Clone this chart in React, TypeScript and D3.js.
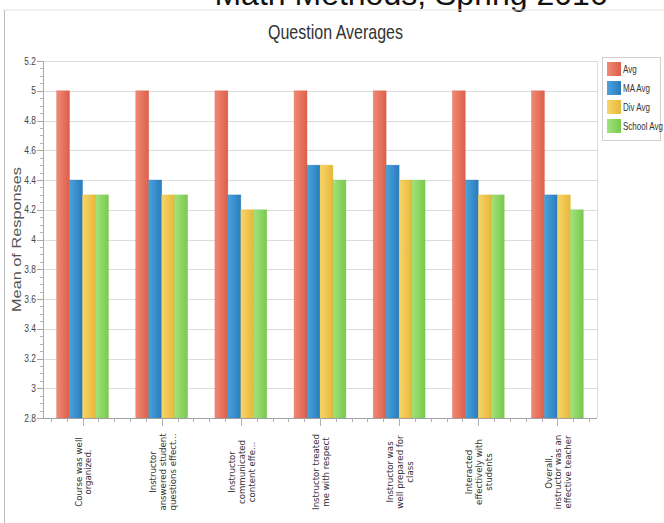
import * as d3 from 'd3'

const categories = [
  ['Course was well', 'organized.'],
  ['Instructor', 'answered student', 'questions effect...'],
  ['Instructor', 'communicated', 'content effe...'],
  ['Instructor treated', 'me with respect'],
  ['Instructor was', 'well prepared for', 'class'],
  ['Interacted', 'effectively with', 'students'],
  ['Overall,', 'instructor was an', 'effective teacher'],
]
const seriesNames = ['Avg', 'MA Avg', 'Div Avg', 'School Avg']
const avg = [5, 5, 5, 5, 5, 5, 5]
const maAvg = [4.4, 4.4, 4.3, 4.5, 4.5, 4.4, 4.3]
const divAvg = [4.3, 4.3, 4.2, 4.5, 4.4, 4.3, 4.3]
const schoolAvg = [4.3, 4.3, 4.2, 4.4, 4.4, 4.3, 4.2]
const yTicks = [2.8, 3, 3.2, 3.4, 3.6, 3.8, 4, 4.2, 4.4, 4.6, 4.8, 5, 5.2]

const colors = [
  ['#f08a76', '#dc5f49'],
  ['#4aa3dc', '#2a7cbd'],
  ['#f6d66a', '#e8b739'],
  ['#a3e27c', '#79c94e'],
]

const W = 664
const H = 523
const left = 43
const right = 597
const top = 61
const bottom = 418

// the reference uses a condensed face; squeeze a normal sans horizontally
function Narrow({ x, y, anchor = 'start', size, fill = '#333', children }: any) {
  return (
    <text
      transform={`translate(${x},${y}) scale(0.8,1)`}
      textAnchor={anchor}
      fontFamily="Liberation Sans, Arial, sans-serif"
      fontSize={size}
      fill={fill}
    >
      {children}
    </text>
  )
}

export default function App() {
  const series = [avg, maAvg, divAvg, schoolAvg]
  const x = d3.scaleBand().domain(d3.range(categories.length).map(String)).range([left, right])
  const inner = d3.scaleBand().domain(seriesNames).range([0, x.bandwidth()]).paddingOuter(1.05).paddingInner(0)
  const y = d3.scaleLinear().domain([2.8, 5.2]).range([bottom, top])
  const minorY = d3.range(2.8, 5.2001, 0.05).map((v) => +v.toFixed(2))
  const minorX = d3.range(0, 7 * 5).map((i) => left + (i * x.bandwidth()) / 5 + x.bandwidth() / 10)

  return (
    <svg width={W} height={H} style={{ position: 'absolute', left: 0, top: 0, background: '#fff' }}>
      <defs>
        {colors.map((c, i) => (
          <linearGradient key={i} id={'g' + i} x1="0%" x2="100%">
            <stop offset="0%" stopColor={c[0]} />
            <stop offset="100%" stopColor={c[1]} />
          </linearGradient>
        ))}
      </defs>
      <text x={411} y={5} textAnchor="middle" fontFamily="Liberation Sans, Arial, sans-serif" fontSize={32} fill="#111">
        Math Methods, Spring 2016
      </text>
      <line x1={4} x2={W} y1={10} y2={10} stroke="#e4e4e4" />
      <line x1={4.5} x2={4.5} y1={10} y2={H} stroke="#bdbdbd" />
      <text
        x={268}
        y={39}
        textLength={135}
        lengthAdjust="spacingAndGlyphs"
        fontFamily="Liberation Sans, Arial, sans-serif"
        fontSize={21}
        fill="#333"
      >
        Question Averages
      </text>

      {/* grid */}
      {yTicks.map((t) => (
        <line key={t} x1={left} x2={right} y1={Math.round(y(t)) + 0.5} y2={Math.round(y(t)) + 0.5} stroke="#dcdcdc" />
      ))}
      <line x1={right + 0.5} x2={right + 0.5} y1={top} y2={bottom} stroke="#dcdcdc" />

      {/* bars */}
      {categories.map((_, ci) =>
        series.map((s, si) => {
          const bx = (x(String(ci)) ?? 0) + (inner(seriesNames[si]) ?? 0)
          return (
            <rect
              key={ci + '-' + si}
              x={bx}
              y={y(s[ci])}
              width={inner.bandwidth()}
              height={bottom - y(s[ci])}
              fill={`url(#g${si})`}
              stroke={colors[si][1]}
              strokeOpacity={0.5}
              strokeWidth={0.6}
            />
          )
        })
      )}

      {/* y axis */}
      <line x1={left + 0.5} x2={left + 0.5} y1={top} y2={bottom} stroke="#a8a8a8" />
      {minorY.map((t) => (
        <line key={'m' + t} x1={left - 3} x2={left} y1={Math.round(y(t)) + 0.5} y2={Math.round(y(t)) + 0.5} stroke="#b5b5b5" />
      ))}
      {yTicks.map((t) => (
        <g key={'t' + t}>
          <line x1={left - 6} x2={left} y1={Math.round(y(t)) + 0.5} y2={Math.round(y(t)) + 0.5} stroke="#a8a8a8" />
          <Narrow x={left - 7} y={y(t) + 3.5} anchor="end" size={10.5} fill="#444">
            {d3.format('~g')(t)}
          </Narrow>
        </g>
      ))}
      <text
        transform={`translate(21,${(top + bottom) / 2}) rotate(-90)`}
        textAnchor="middle"
        textLength={145}
        lengthAdjust="spacingAndGlyphs"
        fontFamily="Liberation Sans, Arial, sans-serif"
        fontSize={13.5}
        fill="#555"
      >
        Mean of Responses
      </text>

      {/* x axis */}
      <line x1={left} x2={right} y1={bottom + 0.5} y2={bottom + 0.5} stroke="#a0a0a0" />
      {minorX.map((px, i) => (
        <line key={'x' + i} x1={Math.round(px) + 0.5} x2={Math.round(px) + 0.5} y1={bottom} y2={bottom + (i % 5 === 2 ? 8 : 4)} stroke="#b0b0b0" />
      ))}
      {categories.map((lines, ci) => {
        const cx = (x(String(ci)) ?? 0) + x.bandwidth() / 2
        const n = lines.length
        return (
          <text
            key={'c' + ci}
            transform={`translate(${cx + 1},472) rotate(-90)`}
            textAnchor="middle"
            fontFamily="DejaVu Sans, Verdana, sans-serif"
            fontSize={8.6}
            fill="#333"
          >
            {lines.map((l, li) => (
              <tspan key={li} x={0} y={(li - (n - 1) / 2) * 9.8 + 3}>
                {l}
              </tspan>
            ))}
          </text>
        )
      })}

      {/* legend */}
      <rect x={602.5} y={57.5} width={58} height={83} fill="#fff" stroke="#cfcfcf" />
      {seriesNames.map((name, i) => (
        <g key={name}>
          <rect x={607} y={62 + i * 19} width={14} height={14} fill={`url(#g${i})`} />
          <Narrow x={623} y={73 + i * 19} size={10}>
            {name}
          </Narrow>
        </g>
      ))}
    </svg>
  )
}
